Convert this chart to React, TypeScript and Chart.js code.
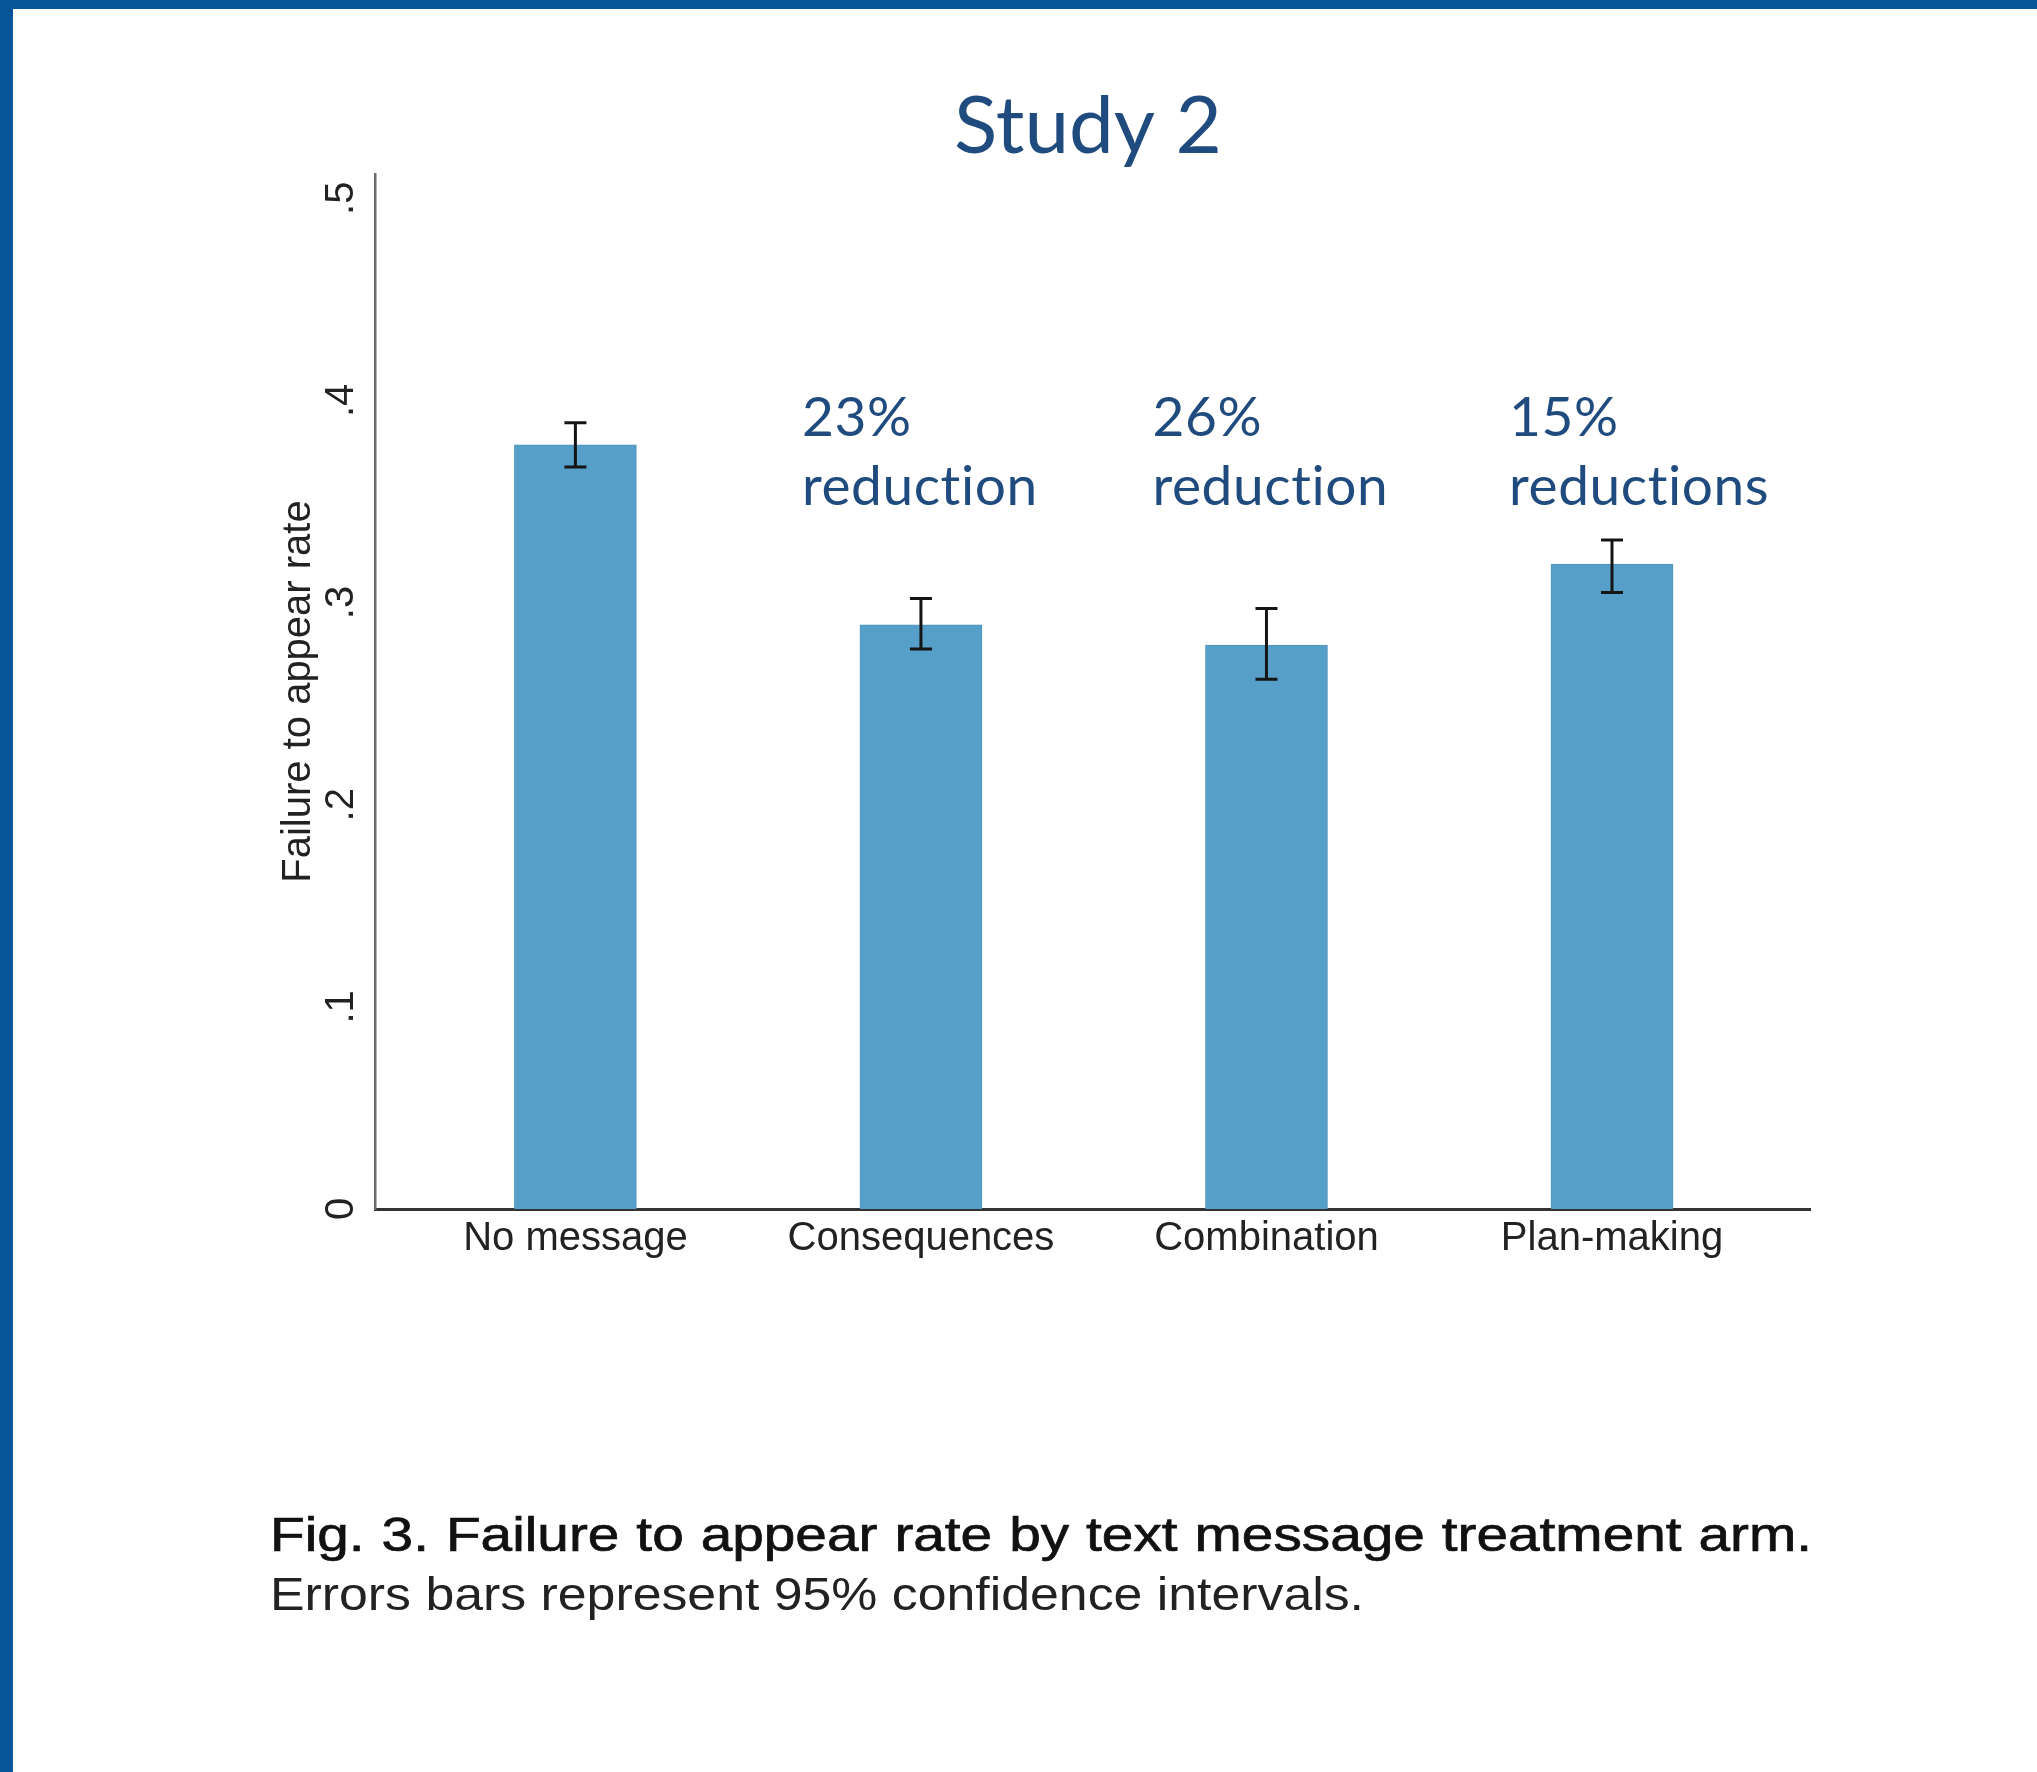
import React, { useEffect, useRef } from "react";
import { Chart, registerables } from "chart.js";

Chart.register(...registerables);

const categories = ["No message", "Consequences", "Combination", "Plan-making"];
const rates = [0.378, 0.289, 0.279, 0.319];
const ciLow = [0.367, 0.277, 0.262, 0.305];
const ciHigh = [0.389, 0.302, 0.297, 0.331];
const yTickValues = [0, 0.1, 0.2, 0.3, 0.4, 0.5];
const yTickLabels = ["0", ".1", ".2", ".3", ".4", ".5"];
const annotationIndex = [1, 2, 3];
const annotationLines = [
  ["23%", "reduction"],
  ["26%", "reduction"],
  ["15%", "reductions"],
];
const titleText = "Study 2";
const yTitle = "Failure to appear rate";
const captionLine1 = "Fig. 3. Failure to appear rate by text message treatment arm.";
const captionLine2 = "Errors bars represent 95% confidence intervals.";

// layout / style constants
const W = 2037;
const H = 1772;
const BAR_COLOR = "#569fc8";
const NAVY = "#1f4b7f";
const ANNOT_DX = [-119, -114, -103];

const overlayPlugin = {
  id: "overlay",
  beforeDraw(chart: any) {
    const ctx = chart.ctx;
    ctx.save();
    ctx.fillStyle = "#ffffff";
    ctx.fillRect(0, 0, chart.width, chart.height);
    ctx.restore();
  },
  afterDatasetsDraw(chart: any) {
    const ctx = chart.ctx;
    const y = chart.scales.y;
    const meta = chart.getDatasetMeta(0);
    ctx.save();
    ctx.strokeStyle = "#151515";
    ctx.lineWidth = 3;
    meta.data.forEach((bar: any, i: number) => {
      const x = bar.x;
      const yl = y.getPixelForValue(ciLow[i]);
      const yh = y.getPixelForValue(ciHigh[i]);
      ctx.beginPath();
      ctx.moveTo(x, yl);
      ctx.lineTo(x, yh);
      ctx.moveTo(x - 11, yl);
      ctx.lineTo(x + 11, yl);
      ctx.moveTo(x - 11, yh);
      ctx.lineTo(x + 11, yh);
      ctx.stroke();
    });
    ctx.restore();
  },
  afterDraw(chart: any) {
    const ctx = chart.ctx;
    const y = chart.scales.y;
    const x = chart.scales.x;
    const area = chart.chartArea;
    ctx.save();

    // Title
    ctx.fillStyle = NAVY;
    ctx.font = "80px Lato";
    ctx.textAlign = "center";
    ctx.textBaseline = "alphabetic";
    ctx.fillText(titleText, 1088, 153);

    // Annotations
    ctx.font = "55px Lato";
    ctx.textAlign = "left";
    try {
      (ctx as any).letterSpacing = "0.6px";
    } catch (e) {}
    annotationIndex.forEach((idx, j) => {
      const cx = x.getPixelForValue(idx);
      const left = cx + ANNOT_DX[j];
      annotationLines[j].forEach((ln, k) => {
        ctx.fillText(ln, left, 436 + k * 69);
      });
    });
    try {
      (ctx as any).letterSpacing = "0px";
    } catch (e) {}

    // Y tick labels (rotated)
    ctx.fillStyle = "#222";
    ctx.font = "40px 'Liberation Sans'";
    ctx.textAlign = "center";
    ctx.textBaseline = "middle";
    yTickValues.forEach((v, i) => {
      const py = y.getPixelForValue(v);
      ctx.save();
      ctx.translate(342, py);
      ctx.rotate(-Math.PI / 2);
      ctx.fillText(yTickLabels[i], 0, 0);
      ctx.restore();
    });

    // Y title
    ctx.save();
    ctx.translate(299, (area.top + area.bottom) / 2);
    ctx.rotate(-Math.PI / 2);
    ctx.fillText(yTitle, 0, 0);
    ctx.restore();

    // Caption line 1 (justified, condensed)
    ctx.textBaseline = "alphabetic";
    ctx.textAlign = "left";
    ctx.fillStyle = "#111";
    ctx.strokeStyle = "#111";
    ctx.lineWidth = 0.7;
    ctx.font = "48px 'Liberation Sans'";
    const words = captionLine1.split(" ");
    const widths = words.map((w) => ctx.measureText(w).width);
    const total = widths.reduce((s, v) => s + v, 0);
    const x0 = 270;
    const x1 = 1812;
    const gap = 17;
    const sx = (x1 - x0 - gap * (words.length - 1)) / total;
    let cur = x0;
    words.forEach((w, i) => {
      ctx.save();
      ctx.translate(cur, 1551);
      ctx.scale(sx, 1);
      ctx.fillText(w, 0, 0);
      ctx.strokeText(w, 0, 0);
      ctx.restore();
      cur += widths[i] * sx + gap;
    });

    // Caption line 2
    ctx.font = "47px 'Liberation Sans'";
    ctx.fillStyle = "#222";
    const w2 = ctx.measureText(captionLine2).width;
    const s2 = 1094 / w2;
    ctx.save();
    ctx.translate(270, 1610);
    ctx.scale(s2, 1);
    ctx.fillText(captionLine2, 0, 0);
    ctx.restore();

    ctx.restore();
  },
};

export default function App() {
  const canvasRef = useRef<HTMLCanvasElement | null>(null);

  useEffect(() => {
    const canvas = canvasRef.current;
    if (!canvas) return;
    const chart = new Chart(canvas, {
      type: "bar",
      data: {
        datasets: [
          {
            label: "Failure to appear rate",
            data: rates.map((v, i) => ({ x: i, y: v })),
            backgroundColor: BAR_COLOR,
            borderColor: "#4f93bb",
            borderWidth: 1,
            barThickness: 122,
          },
        ],
      },
      options: {
        animation: false,
        responsive: false,
        devicePixelRatio: 1,
        layout: { padding: { left: 375, right: 227, top: 174, bottom: 483 } },
        plugins: {
          legend: { display: false },
          tooltip: { enabled: false },
          title: { display: false },
        },
        scales: {
          x: {
            type: "linear",
            offset: false,
            min: -0.58,
            max: 3.573,
            grid: { display: false, drawTicks: false, offset: false },
            border: { display: true, color: "#333333", width: 3 },
            afterBuildTicks: (s: any) => {
              s.ticks = categories.map((_, i) => ({ value: i }));
            },
            afterFit: (s: any) => {
              s.height = 80;
            },
            ticks: {
              autoSkip: false,
              maxRotation: 0,
              minRotation: 0,
              padding: 6,
              color: "#222",
              font: { family: "'Liberation Sans'", size: 40 },
              callback: (v: any) => categories[v] ?? "",
            },
          },
          y: {
            min: 0,
            max: 0.512,
            grid: { display: false, drawTicks: false },
            border: { display: true, color: "#6a6a6a", width: 2.5 },
            ticks: { display: false },
            afterFit: (s: any) => {
              s.width = 0;
            },
          },
        },
      } as any,
      plugins: [overlayPlugin],
    });
    return () => chart.destroy();
  }, []);

  return (
    <div
      style={{
        position: "absolute",
        left: 0,
        top: 0,
        width: W,
        height: H,
        background: "#fff",
        overflow: "hidden",
      }}
    >
      <canvas
        ref={canvasRef}
        width={W}
        height={H}
        style={{ position: "absolute", left: 0, top: 0, width: W, height: H }}
      />
      <div style={{ position: "absolute", left: 0, top: 0, width: W, height: 9, background: "#06559a" }} />
      <div style={{ position: "absolute", left: 0, top: 0, width: 13, height: H, background: "#06559a" }} />
    </div>
  );
}
